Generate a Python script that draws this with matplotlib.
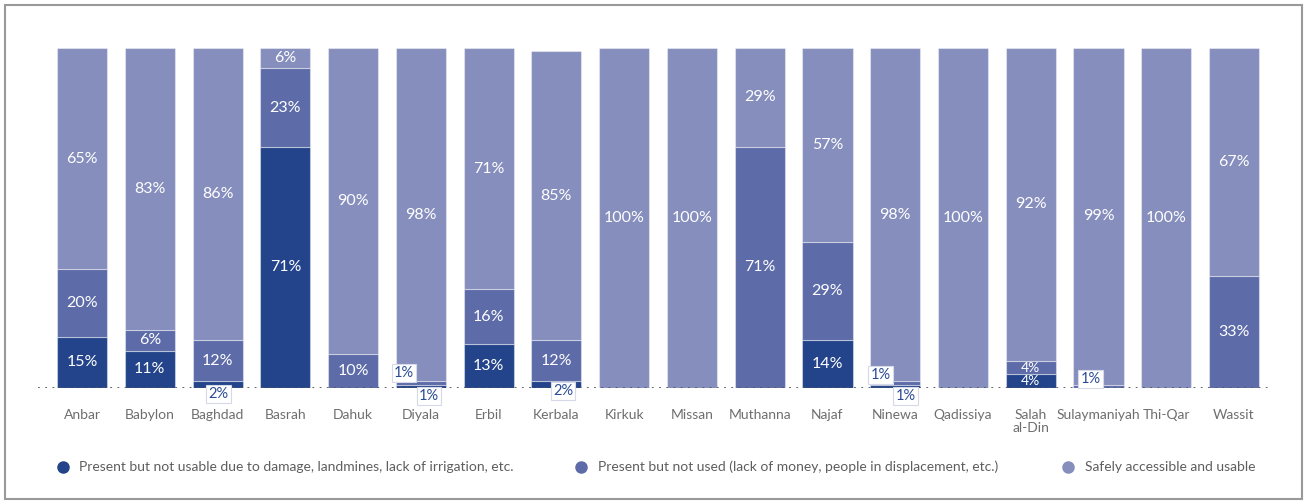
import matplotlib
matplotlib.use("Agg")
import matplotlib.pyplot as plt
from matplotlib.lines import Line2D
from matplotlib.patches import Rectangle
import numpy as np

plt.rcParams['font.family'] = ['Lato', 'DejaVu Sans']

regions = ["Anbar", "Babylon", "Baghdad", "Basrah", "Dahuk", "Diyala", "Erbil",
           "Kerbala", "Kirkuk", "Missan", "Muthanna", "Najaf", "Ninewa",
           "Qadissiya", "Salah\nal-Din", "Sulaymaniyah", "Thi-Qar", "Wassit"]
not_usable = [15, 11, 2, 71, 0, 1, 13, 2, 0, 0, 0, 14, 1, 0, 4, 0, 0, 0]
not_used = [20, 6, 12, 23, 10, 1, 16, 12, 0, 0, 71, 29, 1, 0, 4, 1, 0, 33]
usable = [65, 83, 86, 6, 90, 98, 71, 85, 100, 100, 29, 57, 98, 100, 92, 99, 100, 67]

series_names = ["Present but not usable due to damage, landmines, lack of irrigation, etc.",
                "Present but not used (lack of money, people in displacement, etc.)",
                "Safely accessible and usable"]
colors = ["#23448a", "#5d6ca8", "#868ebd"]

# callouts for the tiny slices: (region, series, dx, y)
callouts = [(2, 0, 0.01, -1.8), (5, 1, -0.25, 4.4), (5, 0, 0.12, -2.3),
            (7, 0, 0.10, -0.9), (12, 1, -0.22, 3.8), (12, 0, 0.15, -2.3),
            (15, 1, -0.12, 2.6)]

fig = plt.figure(figsize=(13.06, 5.01), dpi=100)
ax = fig.add_axes([38 / 1306, 1 - 388 / 501, 1234 / 1306, 340 / 501])

x = np.arange(len(regions))
data = [not_usable, not_used, usable]
bottom = np.zeros(len(regions))
for vals, col in zip(data, colors):
    vals = np.array(vals, dtype=float)
    ax.bar(x, vals, width=0.74, bottom=bottom, color=col,
           edgecolor=(1, 1, 1, 0.4), linewidth=0.8)
    for xi, v, b in zip(x, vals, bottom):
        if v >= 4:
            size = 10 if v < 5 else 11.5
            ax.text(xi, b + v / 2, f"{int(v)}%", ha="center", va="center",
                    color="white", fontsize=size)
    bottom += vals

for ri, si, dx, yy in callouts:
    ax.text(ri + dx, yy, f"{data[si][ri]}%", ha="center", va="center",
            color="#2b4c94", fontsize=10.5, zorder=5, clip_on=False,
            bbox=dict(boxstyle="square,pad=0.15", fc="white", ec="#d5d9ea", lw=0.8))

ax.axhline(0, color="#555555", linestyle=(0, (1, 3)), linewidth=1.3, zorder=4)
ax.set_xlim(-0.65, 17.56)
ax.set_ylim(0, 100)
ax.set_xticks(x)
ax.set_xticklabels(regions, fontsize=10, color="#6e6e6e", linespacing=1.15, va="top")
ax.tick_params(axis="x", length=0, pad=15)
ax.set_yticks([])
for s in ax.spines.values():
    s.set_visible(False)

# legend row
leg_y = 1 - 467 / 501
for mx, tx, col, name in zip([63, 581, 1068], [79, 598, 1085], colors, series_names):
    fig.add_artist(Line2D([mx / 1306], [leg_y], marker="o", markersize=8,
                          color=col, linestyle="none", transform=fig.transFigure))
    fig.text(tx / 1306, leg_y, name, ha="left", va="center", fontsize=10,
             color="#5e5e5e")

fig.add_artist(Rectangle((5 / 1306, 2 / 501), 1297 / 1306, 494 / 501,
                         transform=fig.transFigure, fill=False,
                         edgecolor="#999999", linewidth=1.5))

fig.savefig("out.png", dpi=100)
